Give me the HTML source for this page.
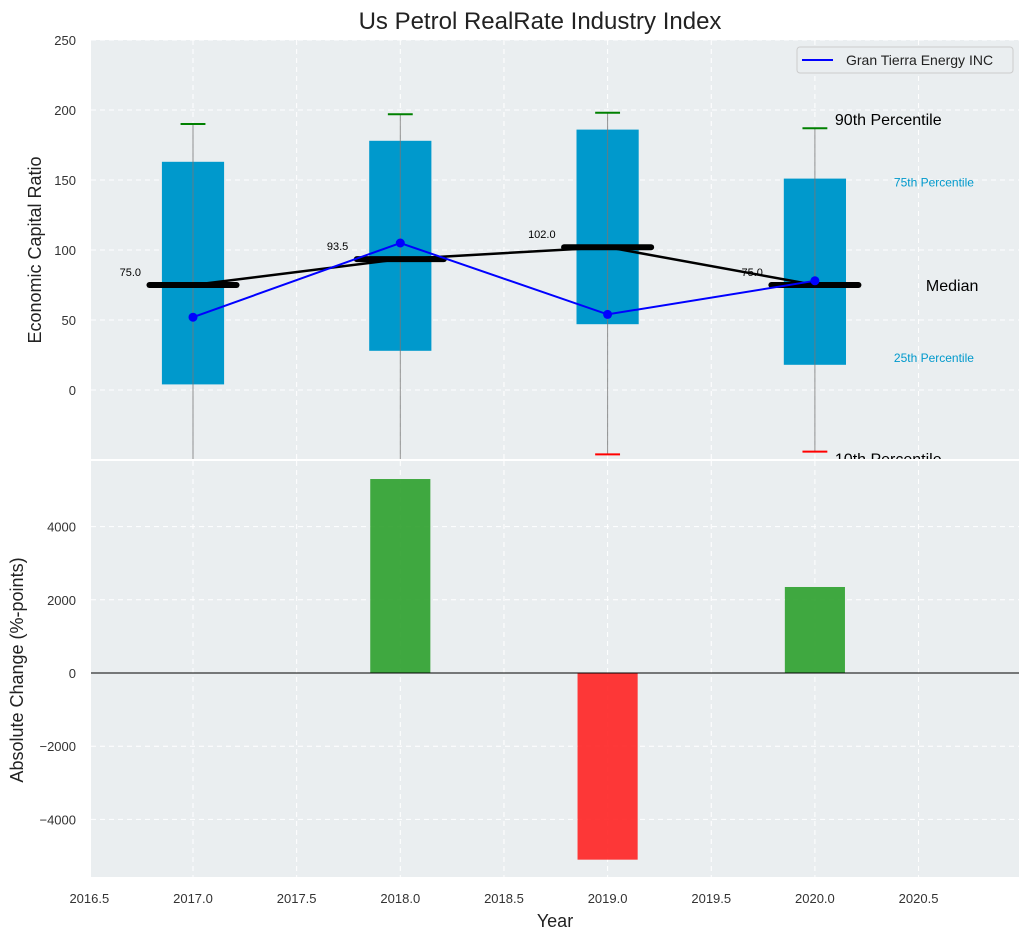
<!DOCTYPE html>
<html><head><meta charset="utf-8"><style>
html,body{margin:0;padding:0;background:#fff;}
svg{display:block;font-family:"Liberation Sans","DejaVu Sans",sans-serif;}
</style></head><body>
<svg id="chart" width="1029" height="940" xmlns="http://www.w3.org/2000/svg">
<defs>
<clipPath id="ct"><rect x="91" y="40" width="928" height="419"/></clipPath>
<clipPath id="cb"><rect x="91" y="461" width="928" height="416"/></clipPath>
</defs>
<rect x="91" y="40" width="928" height="419" fill="#eaeef0"/>
<rect x="91" y="461" width="928" height="416" fill="#eaeef0"/>
<g id="grid"></g>
<g id="top" clip-path="url(#ct)"></g>
<g id="bot" clip-path="url(#cb)"></g>
<g id="axes"></g>
<text x="540" y="29" font-size="24" text-anchor="middle" fill="#222">Us Petrol RealRate Industry Index</text>
<text x="41" y="250" font-size="18" text-anchor="middle" fill="#222" transform="rotate(-90 41 250)">Economic Capital Ratio</text>
<text x="23" y="670" font-size="18" text-anchor="middle" fill="#222" transform="rotate(-90 23 670)">Absolute Change (%-points)</text>
<text x="555" y="927" font-size="18" text-anchor="middle" fill="#222">Year</text>
<g>
<rect x="797" y="47" width="216" height="26" rx="3" fill="#eaeef0" stroke="#ccc"/>
<line x1="802" y1="60" x2="833" y2="60" stroke="#0000ff" stroke-width="2"/>
<text x="846" y="65" font-size="14" fill="#222">Gran Tierra Energy INC</text>
</g>
</svg>
<script>
const years=[2017,2018,2019,2020];
const p10=[-80,-80,-46,-44];
const p25=[4,28,47,18];
const medians=[75,93.5,102,75];
const p75=[163,178,186,151];
const p90=[190,197,198,187];
const company=[52,105,54,78];
const changes=[0,5300,-5100,2350];
const topTicks=[0,50,100,150,200,250];
const botTicks=[-4000,-2000,0,2000,4000];
const xTicks=[2016.5,2017,2017.5,2018,2018.5,2019,2019.5,2020,2020.5];

const NS="http://www.w3.org/2000/svg";
const X=v=>193+(v-2017)*207.3;
const Yt=v=>390-v*1.4;
const Yb=v=>673-v*0.0366;
function mk(parent,tag,attrs,text){const e=document.createElementNS(NS,tag);for(const k in attrs)e.setAttribute(k,attrs[k]);if(text!==undefined)e.textContent=text;document.getElementById(parent).appendChild(e);return e;}

xTicks.forEach(t=>{
 let g=mk('grid','line',{x1:X(t),x2:X(t),y1:40,y2:459,stroke:'#fff','stroke-dasharray':'5,4','stroke-width':1});
 
 g=mk('grid','line',{x1:X(t),x2:X(t),y1:461,y2:877,stroke:'#fff','stroke-dasharray':'5,4','stroke-width':1});
 
 const l=mk('axes','text',{x:X(t),y:903,'font-size':13,'text-anchor':'middle',fill:'#333'},t.toFixed(1));
 
});
topTicks.forEach(t=>{
 const g=mk('grid','line',{x1:91,x2:1019,y1:Yt(t),y2:Yt(t),stroke:'#fff','stroke-dasharray':'5,4'});
 
 const l=mk('axes','text',{x:76,y:Yt(t)+5,'font-size':13,'text-anchor':'end',fill:'#333'},t);
 
});
botTicks.forEach(t=>{
 const g=mk('grid','line',{x1:91,x2:1019,y1:Yb(t),y2:Yb(t),stroke:'#fff','stroke-dasharray':'5,4'});
 
 const l=mk('axes','text',{x:76,y:Yb(t)+5,'font-size':13,'text-anchor':'end',fill:'#333'},t<0?'\u2212'+(-t):t);
 
});

const bw=0.15*207.3, mw=0.21*207.3, cw=0.06*207.3;
years.forEach((y,i)=>{
 const cx=X(y);
 let e=mk('top','rect',{x:cx-bw,width:2*bw,y:Yt(p75[i]),height:Yt(p25[i])-Yt(p75[i]),fill:'#0099cc'});
 
 e=mk('top','line',{x1:cx,x2:cx,y1:Yt(p90[i]),y2:Yt(p10[i]),stroke:'#777','stroke-width':1,opacity:0.8});
 
 e=mk('top','line',{x1:cx-cw,x2:cx+cw,y1:Yt(p90[i]),y2:Yt(p90[i]),stroke:'green','stroke-width':2});
 
 e=mk('top','line',{x1:cx-cw,x2:cx+cw,y1:Yt(p10[i]),y2:Yt(p10[i]),stroke:'red','stroke-width':2});
 
 e=mk('top','line',{x1:cx-mw,x2:cx+mw,y1:Yt(medians[i]),y2:Yt(medians[i]),stroke:'#000','stroke-width':6,'stroke-linecap':'round'});
 
 e=mk('top','text',{x:cx-52,y:Yt(medians[i])-9,'font-size':11,'text-anchor':'end',fill:'#000'},medians[i].toFixed(1));
 
});
let ml=mk('top','polyline',{points:years.map((y,i)=>X(y)+','+Yt(medians[i])).join(' '),fill:'none',stroke:'#000','stroke-width':2.5});

let cl=mk('top','polyline',{points:years.map((y,i)=>X(y)+','+Yt(company[i])).join(' '),fill:'none',stroke:'#0000ff','stroke-width':2});

years.forEach((y,i)=>{const c=mk('top','circle',{cx:X(y),cy:Yt(company[i]),r:4.5,fill:'#0000ff'});
 });
const last=years.length-1, lx=X(years[last]);
[['90th Percentile',lx+20,Yt(p90[last])-3,16,'#000'],['75th Percentile',lx+79,Yt(p75[last])+8,12,'#0099cc'],
 ['Median',lx+111,Yt(medians[last])+6,16,'#000'],['25th Percentile',lx+79,Yt(p25[last])-3,12,'#0099cc'],
 ['10th Percentile',lx+20,Yt(p10[last])+13,16,'#000']].forEach(a=>{
 const t=mk('top','text',{x:a[1],y:a[2],'font-size':a[3],fill:a[4]},a[0]);
 
});
years.forEach((y,i)=>{
 if(!changes[i])return;
 const r=mk('bot','rect',{x:X(y)-0.145*207.3,width:0.29*207.3,y:Math.min(Yb(0),Yb(changes[i])),height:Math.abs(Yb(changes[i])-Yb(0)),fill:changes[i]>0?'#2ca02c':'#ff2222',opacity:0.9});
 
});
let z=mk('bot','line',{x1:91,x2:1019,y1:Yb(0),y2:Yb(0),stroke:'#000','stroke-width':1});

</script>
</body></html>
